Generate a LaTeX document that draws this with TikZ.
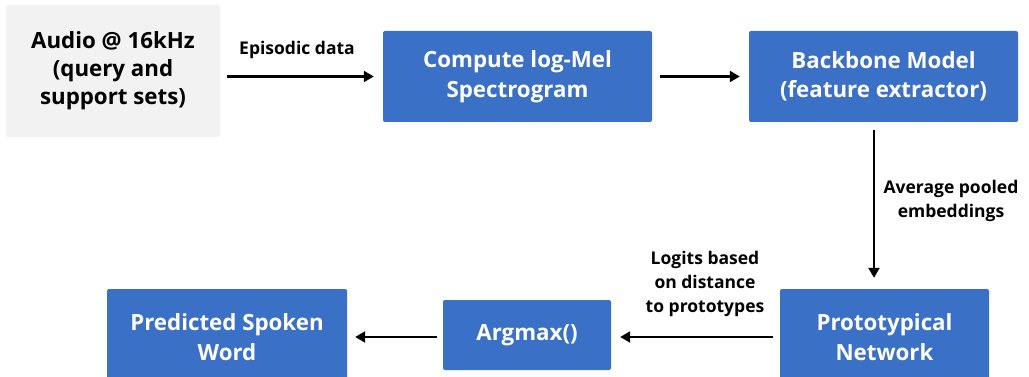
\documentclass[tikz,border=0pt]{standalone}
\usepackage{fontspec}
\setmainfont{Open Sans}
\usetikzlibrary{arrows.meta}
\definecolor{boxblue}{RGB}{58,112,198}
\definecolor{boxgray}{RGB}{242,242,242}
\begin{document}
\begin{tikzpicture}[x=1pt,y=-1pt,
  bluebox/.style={draw=none,fill=boxblue,rounded corners=2pt,text=white,align=center,
    font=\fontsize{22.3}{29.5}\selectfont\bfseries,inner sep=0pt},
  graybox/.style={draw=none,fill=boxgray,rounded corners=2pt,text=black,align=center,
    font=\fontsize{22.3}{28}\selectfont\bfseries,inner sep=0pt},
  lbl/.style={align=center,font=\fontsize{17.5}{24}\selectfont\bfseries,inner sep=0pt},
  conn/.style={line width=2.2pt,-{Triangle[length=10pt,width=11pt]}}]
\useasboundingbox (0,0) rectangle (1029,377);
\node[graybox,minimum width=214pt,minimum height=132pt] (audio) at (113,71) {Audio @ 16kHz\\(query and\\support sets)};
\node[bluebox,minimum width=269pt,minimum height=91pt] (compute) at (517.5,76.5) {Compute log-Mel\\Spectrogram};
\node[bluebox,minimum width=269pt,minimum height=91pt] (backbone) at (883.5,76.5) {Backbone Model\\(feature extractor)};
\node[bluebox,minimum width=209pt,minimum height=96pt] (proto) at (884.5,337) {Prototypical\\Network};
\node[bluebox,minimum width=168pt,minimum height=70pt] (argmax) at (527,335) {Argmax()};
\node[bluebox,minimum width=240pt,minimum height=96pt] (pred) at (227,337) {Predicted Spoken\\Word};
\draw[conn,shorten <=7pt,shorten >=9pt] (audio.east |- compute.west) -- (compute.west);
\draw[conn,shorten <=8pt,shorten >=9pt] (compute) -- (backbone);
\draw[conn,shorten <=8pt,shorten >=11pt] (backbone.south -| 874,0) -- (proto.north -| 874,0);
\draw[conn,shorten <=7pt,shorten >=9pt] (proto.west |- 0,337) -- (argmax.east |- 0,337);
\draw[conn,shorten <=6pt,shorten >=8pt] (argmax.west |- 0,337) -- (pred.east |- 0,337);
\node[lbl] (l1) at (297,50) {Episodic data};
\node[lbl] (l2) at (951,201) {Average pooled\\embeddings};
\node[lbl] (l3) at (705,284) {Logits based\\on distance\\to prototypes};
\end{tikzpicture}
\end{document}
